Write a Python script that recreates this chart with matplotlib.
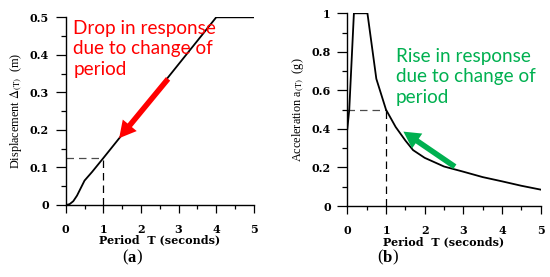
import matplotlib
matplotlib.use("Agg")
import matplotlib.pyplot as plt
from matplotlib.ticker import MultipleLocator
from matplotlib.offsetbox import TextArea, HPacker, AnnotationBbox

# Data (a) displacement spectrum
disp_T = [0.0, 0.1, 0.2, 0.3, 0.4, 0.5, 0.7, 1.0, 4.0, 5.0]
disp_v = [0.0, 0.002, 0.01, 0.025, 0.045, 0.065, 0.088, 0.125, 0.5, 0.5]
# Data (b) acceleration spectrum
acc_T = [0.0, 0.05, 0.17, 0.52, 0.75, 1.0, 1.25, 1.5, 1.7, 2.0, 2.5, 3.0, 3.5, 4.0, 4.5, 5.0]
acc_v = [0.4, 0.5, 1.0, 1.0, 0.66, 0.5, 0.41, 0.34, 0.29, 0.25, 0.205, 0.178, 0.15, 0.128, 0.105, 0.085]

period_ref = 1.0
disp_ref = 0.125
acc_ref = 0.5

xticks = [0, 1, 2, 3, 4, 5]
xticklabels = ["0", "1", "2", "3", "4", "5"]
disp_yticks = [0, 0.1, 0.2, 0.3, 0.4, 0.5]
disp_yticklabels = ["0", "0.1", "0.2", "0.3", "0.4", "0.5"]
acc_yticks = [0, 0.2, 0.4, 0.6, 0.8, 1.0]
acc_yticklabels = ["0", "0.2", "0.4", "0.6", "0.8", "1"]

plt.rcParams["mathtext.fontset"] = "stix"
serif = "DejaVu Serif"
times = "Liberation Serif"

fig = plt.figure(figsize=(5.5, 2.77), dpi=100)
axA = fig.add_axes([0.1195, 0.26, 0.342, 0.6775])
axB = fig.add_axes([0.6315, 0.2563, 0.3516, 0.6957])


def style(ax, yticks, ylabels, yminor):
    ax.set_xlim(0, 5)
    ax.spines["top"].set_visible(False)
    ax.spines["right"].set_visible(False)
    for s in ("left", "bottom"):
        ax.spines[s].set_linewidth(1.0)
    ax.set_xticks(xticks)
    ax.set_xticklabels(xticklabels, fontfamily=serif, fontweight="bold", fontsize=8)
    ax.set_yticks(yticks)
    ax.set_yticklabels(ylabels, fontfamily=serif, fontweight="bold", fontsize=8)
    ax.xaxis.set_minor_locator(MultipleLocator(0.5))
    ax.yaxis.set_minor_locator(MultipleLocator(yminor))
    ax.tick_params(axis="y", which="major", direction="out", length=7, width=0.9, pad=5)
    ax.tick_params(axis="y", which="minor", direction="out", length=3.5, width=0.9)
    ax.tick_params(axis="x", which="major", direction="out", length=5.5, width=0.9, pad=8)
    ax.tick_params(axis="x", which="minor", direction="out", length=3, width=0.9)
    ax.set_xlabel("Period  T (seconds)", fontfamily=serif, fontweight="bold", fontsize=8, labelpad=0)


def panel_label(x, letter):
    parts = [TextArea("(", textprops=dict(fontfamily=times, fontsize=12)),
             TextArea(letter, textprops=dict(fontfamily=times, fontsize=12, fontweight="bold")),
             TextArea(")", textprops=dict(fontfamily=times, fontsize=12))]
    box = HPacker(children=parts, pad=0, sep=0, align="baseline")
    ab = AnnotationBbox(box, (x, 0.07), xycoords="figure fraction", frameon=False,
                        box_alignment=(0.5, 0.5), pad=0)
    fig.add_artist(ab)


# Panel (a)
axA.plot(disp_T, disp_v, color="black", lw=1.3)
axA.plot([0, period_ref], [disp_ref, disp_ref], color="black", lw=0.9, ls=(0, (6, 4)), alpha=0.7)
axA.plot([period_ref, period_ref], [0, disp_ref], color="black", lw=0.9, ls=(0, (6, 4)))
axA.set_ylim(0, 0.5)
style(axA, disp_yticks, disp_yticklabels, 0.05)
axA.set_ylabel(r"Displacement $\Delta_{(\mathrm{T})}$  (m)", fontfamily=times, fontsize=8.8, labelpad=4)
axA.annotate("", xy=(1.42, 0.178), xytext=(2.72, 0.336),
             arrowprops=dict(arrowstyle="simple,head_width=1.3,head_length=1.2,tail_width=0.4",
                             color="#ff0000", lw=0, shrinkA=0, shrinkB=0))
axA.text(0.2, 0.494, "Drop in response\ndue to change of\nperiod", color="#ff0000",
         fontfamily="Lato", fontsize=13.6, va="top", ha="left", linespacing=1.25)
panel_label(0.24, "a")

# Panel (b)
axB.plot(acc_T, acc_v, color="black", lw=1.3)
axB.plot([0, period_ref], [acc_ref, acc_ref], color="black", lw=0.9, ls=(0, (6, 4)), alpha=0.7)
axB.plot([period_ref, period_ref], [0, acc_ref], color="black", lw=0.9, ls=(0, (6, 4)))
axB.set_ylim(0, 1.0)
style(axB, acc_yticks, acc_yticklabels, 0.1)
axB.set_ylabel(r"Acceleration a$_{(\mathrm{T})}$  (g)", fontfamily=times, fontsize=8.8, labelpad=4)
axB.annotate("", xy=(1.45, 0.386), xytext=(2.78, 0.204),
             arrowprops=dict(arrowstyle="simple,head_width=1.3,head_length=1.2,tail_width=0.4",
                             color="#00b050", lw=0, shrinkA=0, shrinkB=0))
axB.text(1.25, 0.82, "Rise in response\ndue to change of\nperiod", color="#00b050",
         fontfamily="Lato", fontsize=13.6, va="top", ha="left", linespacing=1.25)
panel_label(0.705, "b")

fig.savefig("out.png", dpi=100)
